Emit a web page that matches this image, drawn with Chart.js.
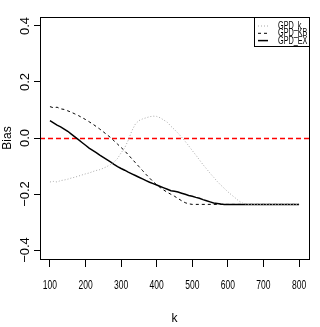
<!DOCTYPE html>
<html>
<head>
<meta charset="utf-8">
<script src="https://cdn.jsdelivr.net/npm/chart.js@4/dist/chart.umd.min.js"></script>
<style>
  html, body { margin: 0; padding: 0; background: #fff; }
  canvas { display: block; }
</style>
</head>
<body>
<canvas id="biasChart" width="320" height="327"></canvas>
<script>
const kValues = [100,110,120,130,140,150,160,170,180,190,200,210,220,230,240,250,260,270,280,290,
  300,310,320,330,340,350,360,370,380,390,400,410,420,430,440,450,460,470,480,490,
  500,510,520,530,540,550,560,570,580,590,600,610,620,630,640,650,660,670,680,690,
  700,710,720,730,740,750,760,770,780,790,800];

const gpdK = [-0.157,-0.155,-0.157,-0.152,-0.150,-0.147,-0.143,-0.140,-0.136,-0.132,
  -0.128,-0.125,-0.120,-0.116,-0.113,-0.108,-0.102,-0.095,-0.086,-0.073,
  -0.053,-0.035,-0.008,0.025,0.050,0.062,0.068,0.072,0.076,0.078,
  0.077,0.072,0.064,0.056,0.042,0.030,0.017,0.003,-0.012,-0.028,
  -0.045,-0.061,-0.078,-0.095,-0.110,-0.126,-0.140,-0.155,-0.168,-0.180,
  -0.192,-0.203,-0.213,-0.224,-0.232,-0.236,-0.237,-0.237,-0.237,-0.237,
  -0.237,-0.237,-0.237,-0.237,-0.237,-0.237,-0.237,-0.237,-0.237,-0.237,-0.237];

const gpdKB = [0.112,0.108,0.110,0.104,0.102,0.097,0.092,0.086,0.080,0.073,
  0.066,0.058,0.050,0.041,0.032,0.022,0.012,0.002,-0.010,-0.022,
  -0.034,-0.046,-0.060,-0.074,-0.088,-0.102,-0.116,-0.130,-0.143,-0.156,
  -0.167,-0.177,-0.186,-0.194,-0.201,-0.208,-0.216,-0.224,-0.231,-0.235,
  -0.237,-0.237,-0.237,-0.237,-0.237,-0.237,-0.237,-0.237,-0.237,-0.237,
  -0.237,-0.237,-0.237,-0.237,-0.237,-0.237,-0.237,-0.237,-0.237,-0.237,
  -0.237,-0.237,-0.237,-0.237,-0.237,-0.237,-0.237,-0.237,-0.237,-0.237,-0.237];

const gpdEX = [0.062,0.054,0.046,0.040,0.032,0.024,0.014,0.004,-0.006,-0.016,
  -0.026,-0.036,-0.044,-0.052,-0.061,-0.069,-0.077,-0.085,-0.094,-0.102,
  -0.109,-0.115,-0.122,-0.128,-0.134,-0.140,-0.146,-0.152,-0.158,-0.163,
  -0.168,-0.173,-0.178,-0.183,-0.188,-0.190,-0.193,-0.197,-0.201,-0.205,
  -0.208,-0.212,-0.215,-0.220,-0.224,-0.228,-0.232,-0.234,-0.236,-0.237,
  -0.237,-0.237,-0.237,-0.237,-0.237,-0.237,-0.237,-0.237,-0.237,-0.237,
  -0.237,-0.237,-0.237,-0.237,-0.237,-0.237,-0.237,-0.237,-0.237,-0.237,-0.237];

const xTicks = [100,200,300,400,500,600,700,800];
const yTicks = [-0.4,-0.2,0.0,0.2,0.4];
const refLine = 0;

const FONT = '"Liberation Sans", Arial, sans-serif';

function pares(ys) {
  return kValues.map((k, i) => ({ x: k, y: ys[i] }));
}

// caixa, linha vermelha em 0, rotulos dos eixos e legenda
const extras = {
  id: "extras",
  beforeDatasetsDraw(chart) {
    const { ctx, chartArea: a, scales } = chart;
    const y0 = Math.round(scales.y.getPixelForValue(refLine)) + 0.5;
    ctx.save();
    ctx.strokeStyle = "#ff0000";
    ctx.lineWidth = 1.5;
    ctx.setLineDash([5, 3]);
    ctx.beginPath();
    ctx.moveTo(a.left, y0);
    ctx.lineTo(a.right, y0);
    ctx.stroke();
    ctx.restore();
  },
  afterDatasetsDraw(chart) {
    const { ctx, chartArea: a, scales } = chart;
    ctx.save();
    ctx.strokeStyle = "#000";
    ctx.lineWidth = 1;
    ctx.strokeRect(a.left + 0.5, a.top + 0.5, a.right - a.left, a.bottom - a.top);

    ctx.fillStyle = "#000";
    ctx.textAlign = "center";
    ctx.textBaseline = "middle";
    ctx.font = "13.5px " + FONT;
    // rotulos do eixo x (estreitos, como no original)
    scales.x.ticks.forEach(t => {
      ctx.save();
      ctx.translate(scales.x.getPixelForValue(t.value), a.bottom + 26);
      ctx.scale(0.63, 1);
      ctx.fillText(String(t.value), 0, 0);
      ctx.restore();
    });
    // rotulos do eixo y, girados
    ctx.font = "13px " + FONT;
    scales.y.ticks.forEach(t => {
      ctx.save();
      ctx.translate(a.left - 15, scales.y.getPixelForValue(t.value));
      ctx.rotate(-Math.PI / 2);
      ctx.fillText(t.value.toFixed(1).replace("-", "\u2212"), 0, 0);
      ctx.restore();
    });

    // legenda
    const lx = a.right - 55, ly = a.top;
    ctx.fillStyle = "#fff";
    ctx.fillRect(lx + 0.5, ly + 0.5, 55, 29);
    ctx.strokeRect(lx + 0.5, ly + 0.5, 55, 29);
    ctx.textAlign = "left";
    ctx.font = "11px " + FONT;
    chart.data.datasets.forEach((ds, i) => {
      const yy = ly + 9 + i * 7.3;
      ctx.strokeStyle = ds.borderColor;
      ctx.lineWidth = ds.borderWidth;
      ctx.setLineDash(ds.borderDash || []);
      ctx.beginPath();
      ctx.moveTo(lx + 4, yy);
      ctx.lineTo(lx + 14, yy);
      ctx.stroke();
      ctx.save();
      ctx.translate(lx + 24, yy);
      ctx.scale(0.66, 1);
      ctx.fillStyle = "#000";
      ctx.fillText(ds.label, 0, 0);
      ctx.restore();
    });
    ctx.restore();
  }
};

const ctx = document.getElementById("biasChart").getContext("2d");
new Chart(ctx, {
  type: "line",
  data: {
    datasets: [
      { label: "GPD_k", data: pares(gpdK), borderColor: "#a8a8a8", borderWidth: 1, borderDash: [1, 2] },
      { label: "GPD_KB", data: pares(gpdKB), borderColor: "#000", borderWidth: 1, borderDash: [3, 3] },
      { label: "GPD_EX", data: pares(gpdEX), borderColor: "#000", borderWidth: 1.5 }
    ]
  },
  options: {
    responsive: false,
    animation: false,
    devicePixelRatio: 1,
    layout: { padding: { top: 17, right: 11, left: 0, bottom: 0 } },
    elements: { point: { radius: 0 }, line: { tension: 0 } },
    plugins: { legend: { display: false }, tooltip: { enabled: false } },
    scales: {
      x: {
        type: "linear",
        min: 72,
        max: 828,
        afterBuildTicks: s => { s.ticks = xTicks.map(v => ({ value: v })); },
        afterFit: s => { s.height = 68; },
        border: { display: false },
        grid: { drawOnChartArea: false, tickLength: 8, color: "#000", tickColor: "#000" },
        ticks: { display: false },
        title: { display: true, text: "k", color: "#000", padding: { top: 0, bottom: 1 }, font: { family: FONT, size: 12 } }
      },
      y: {
        min: -0.432,
        max: 0.432,
        afterBuildTicks: s => { s.ticks = yTicks.map(v => ({ value: v })); },
        afterFit: s => { s.width = 40; },
        border: { display: false },
        grid: { drawOnChartArea: false, tickLength: 6, color: "#000", tickColor: "#000" },
        ticks: { display: false },
        title: { display: true, text: "Bias", color: "#000", padding: 0, font: { family: FONT, size: 12 } }
      }
    }
  },
  plugins: [extras]
});
</script>
</body>
</html>
